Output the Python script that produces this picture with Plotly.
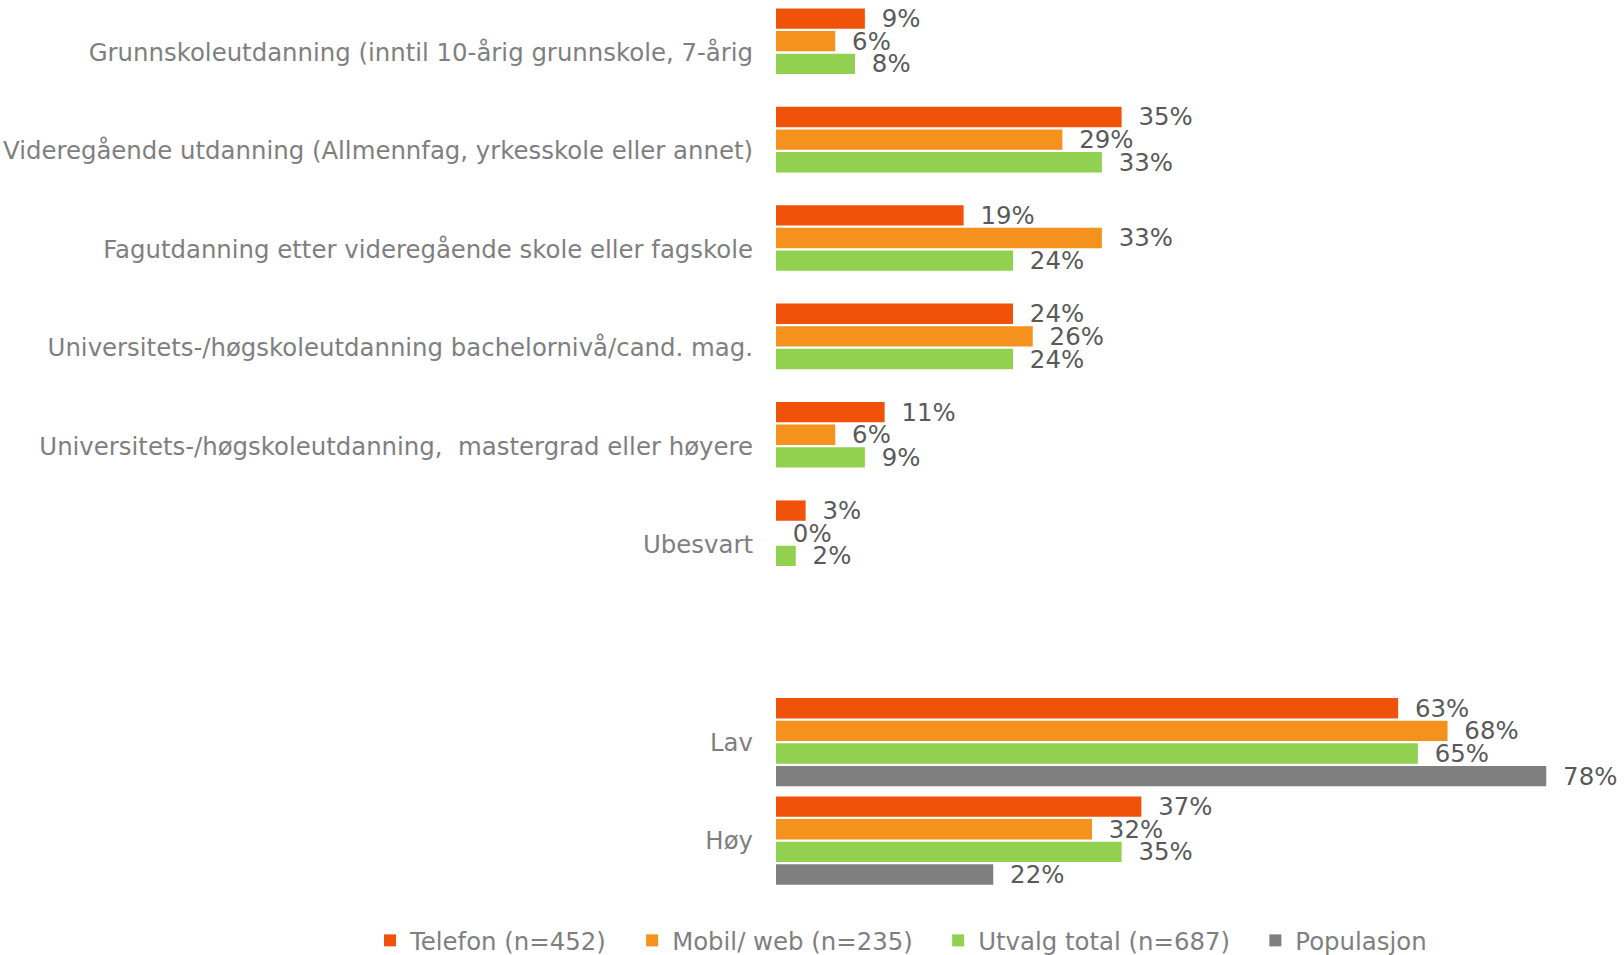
import plotly.graph_objects as go

# ---------------- data ----------------
categories_top = [
    "Grunnskoleutdanning (inntil 10-årig grunnskole, 7-årig",
    "Videregående utdanning (Allmennfag, yrkesskole eller annet)",
    "Fagutdanning etter videregående skole eller fagskole",
    "Universitets-/høgskoleutdanning bachelornivå/cand. mag.",
    "Universitets-/høgskoleutdanning,\u00a0 mastergrad eller høyere",
    "Ubesvart",
]
telefon_top = [9, 35, 19, 24, 11, 3]
mobil_top = [6, 29, 33, 26, 6, 0]
utvalg_top = [8, 33, 24, 24, 9, 2]
populasjon_top = [None, None, None, None, None, None]

categories_bottom = ["Lav", "Høy"]
telefon_bottom = [63, 37]
mobil_bottom = [68, 32]
utvalg_bottom = [65, 35]
populasjon_bottom = [78, 22]

series_names = ["Telefon (n=452)", "Mobil/ web (n=235)", "Utvalg total (n=687)", "Populasjon"]
colors = ["#F0520A", "#F5921E", "#92D050", "#7F7F7F"]

# ---------------- figure ----------------
W, H = 1624, 955
FONT = "DejaVu Sans"
FS = 24.4
VAL_COLOR = "#595959"
LAB_COLOR = "#7F7F7F"
PAD = "\u00a0\u2005"
LEG_PAD = "\u00a0\u00a0\u2009"

fig = go.Figure()

top_series = [telefon_top, mobil_top, utvalg_top, populasjon_top]
bottom_series = [telefon_bottom, mobil_bottom, utvalg_bottom, populasjon_bottom]

for i, (name, vals) in enumerate(zip(series_names, top_series)):
    fig.add_trace(go.Bar(
        y=categories_top, x=vals, orientation="h", name=name + LEG_PAD,
        marker=dict(color=colors[i], line=dict(width=0)),
        text=[None if v is None else f"{PAD}{v}%" for v in vals],
        textposition="outside", cliponaxis=False, constraintext="none",
        textfont=dict(family=FONT, size=FS, color=VAL_COLOR),
        xaxis="x", yaxis="y", legendgroup=name, showlegend=False,
        hoverinfo="skip",
    ))

for i, (name, vals) in enumerate(zip(series_names, bottom_series)):
    fig.add_trace(go.Bar(
        y=categories_bottom, x=vals, orientation="h", name=name + LEG_PAD,
        marker=dict(color=colors[i], line=dict(width=0)),
        text=[f"{PAD}{v}%" for v in vals],
        textposition="outside", cliponaxis=False, constraintext="none",
        textfont=dict(family=FONT, size=FS, color=VAL_COLOR),
        xaxis="x2", yaxis="y2", legendgroup=name, showlegend=True,
        hoverinfo="skip",
    ))

x_left, x_right = 776, 1600
px_per_pct = 9.875
xmax = (x_right - x_left) / px_per_pct
xdom = [x_left / W, x_right / W]

axis_x = dict(range=[0, xmax], showgrid=False, zeroline=False, showline=False,
              showticklabels=False, ticks="", fixedrange=True)
axis_y = dict(type="category", showgrid=False, zeroline=False, showline=False,
              ticks="", ticklabelstandoff=22,
              tickfont=dict(family=FONT, size=FS, color=LAB_COLOR))

fig.update_layout(
    margin=dict(l=0, r=0, t=0, b=0, autoexpand=False),
    paper_bgcolor="white", plot_bgcolor="white",
    barmode="group", bargap=0.081, bargroupgap=0.1,
    font=dict(family=FONT, size=FS, color=LAB_COLOR),
    xaxis=dict(axis_x, domain=xdom, anchor="y"),
    yaxis=dict(axis_y, domain=[1 - 593.7 / H, 1 - 3.3 / H], range=[5.5, -0.5], anchor="x"),
    xaxis2=dict(axis_x, domain=xdom, anchor="y2"),
    yaxis2=dict(axis_y, domain=[1 - 889.8 / H, 1 - 693.0 / H], range=[1.5, -0.5], anchor="x2"),
    legend=dict(
        orientation="h", x=370 / W, xanchor="left", y=(H - 940.5) / H, yanchor="middle",
        font=dict(family=FONT, size=FS, color=LAB_COLOR),
        bgcolor="rgba(0,0,0,0)", borderwidth=0, traceorder="normal",
    ),
    showlegend=True,
)

fig.write_html(
    "out.html",
    config={"displayModeBar": False, "responsive": True},
    default_width="100vw", default_height="100vh",
    post_script="document.body.style.margin='0';document.documentElement.style.overflow='hidden';",
)
